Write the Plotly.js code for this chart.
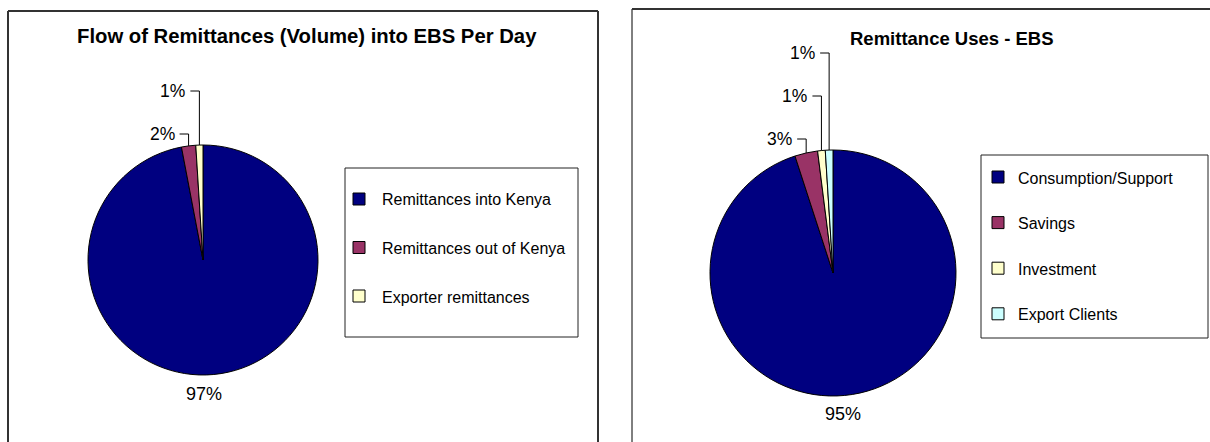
<!DOCTYPE html>
<html><head><meta charset="utf-8">
<script src="https://cdn.plot.ly/plotly-3.0.1.min.js"></script>
<style>html,body{margin:0;padding:0;background:#fff}#chart{width:1210px;height:442px}</style>
</head><body><div id="chart"></div>
<script>
// ---- data ----
const flowTitle = 'Flow of Remittances (Volume) into EBS Per Day';
const flowLabels = ['Remittances into Kenya', 'Remittances out of Kenya', 'Exporter remittances'];
const flowValues = [97, 2, 1];

const usesTitle = 'Remittance Uses - EBS';
const usesLabels = ['Consumption/Support', 'Savings', 'Investment', 'Export Clients'];
const usesValues = [95, 3, 1, 1];

const sliceColors = ['#000080', '#993366', '#FFFFCC', '#CCFFFF'];

// ---- layout helpers ----
const W = 1210, H = 442;
const FONT = '"Liberation Sans", Arial, sans-serif';
const px = x => x / W, py = y => 1 - y / H;

const charts = [
  {title: flowTitle, labels: flowLabels, values: flowValues,
   cx: 203, cy: 260, r: 115, titleX: 307, titleY: 36, titleSize: 20.3,
   legend: {x0: 345, y0: 168, x1: 578, y1: 337, first: 199, step: 48.5, markX: 353, textX: 380}},
  {title: usesTitle, labels: usesLabels, values: usesValues,
   cx: 833, cy: 273, r: 123, titleX: 952, titleY: 38, titleSize: 18.5,
   legend: {x0: 981, y0: 155, x1: 1208, y1: 338, first: 177, step: 45.6, markX: 992, textX: 1016}}
];

const data = charts.map(c => ({
  type: 'pie', labels: c.labels, values: c.values,
  sort: false, direction: 'clockwise', rotation: 0,
  marker: {colors: sliceColors.slice(0, c.values.length), line: {color: '#000', width: 1}},
  textinfo: 'none', hoverinfo: 'label+percent', showlegend: false,
  domain: {x: [px(c.cx - c.r), px(c.cx + c.r)], y: [py(c.cy + c.r), py(c.cy - c.r)]}
}));

const annotations = [];
const shapes = [];

// panel frames
shapes.push({type: 'line', xref: 'paper', yref: 'paper', x0: px(8), x1: px(8), y0: py(11), y1: py(460), line: {color: '#333', width: 2}});
shapes.push({type: 'line', xref: 'paper', yref: 'paper', x0: px(598), x1: px(598), y0: py(11), y1: py(460), line: {color: '#333', width: 2}});
shapes.push({type: 'line', xref: 'paper', yref: 'paper', x0: px(8), x1: px(598), y0: py(11), y1: py(11), line: {color: '#333', width: 2}});
shapes.push({type: 'line', xref: 'paper', yref: 'paper', x0: px(632), x1: px(632), y0: py(9), y1: py(460), line: {color: '#000', width: 1}});
shapes.push({type: 'line', xref: 'paper', yref: 'paper', x0: px(632), x1: px(1220), y0: py(9), y1: py(9), line: {color: '#333', width: 2}});

charts.forEach(c => {
  // title
  annotations.push({xref: 'paper', yref: 'paper', x: px(c.titleX), y: py(c.titleY),
    xanchor: 'center', yanchor: 'middle', showarrow: false,
    text: '<b>' + c.title + '</b>', font: {family: FONT, size: c.titleSize, color: '#000'}});

  // slice labels, derived from values
  const total = c.values.reduce((a, b) => a + b, 0);
  let cum = 0, k = 0;
  c.values.forEach((v, i) => {
    const mid = (cum + v / 2) / total * 2 * Math.PI;
    cum += v;
    const pct = Math.round(v / total * 100) + '%';
    const s = Math.sin(mid), co = Math.cos(mid);
    if (i === 0) {
      const d = c.r + 20;
      annotations.push({xref: 'paper', yref: 'paper', x: px(c.cx + d * s - 12), y: py(c.cy - d * co),
        xanchor: 'center', yanchor: 'middle', showarrow: false, text: pct,
        font: {family: FONT, size: 18, color: '#000'}});
    } else {
      const ax = c.cx + c.r * s, ay = c.cy - c.r * co;
      const ly = c.cy - c.r - 11 - 43 * k; k++;
      const lx = ax - 12;
      annotations.push({xref: 'paper', yref: 'paper', x: px(lx), y: py(ly),
        xanchor: 'right', yanchor: 'middle', showarrow: false, text: pct,
        font: {family: FONT, size: 17.5, color: '#000'}});
      shapes.push({type: 'path', xref: 'paper', yref: 'paper',
        path: 'M' + px(lx + 3) + ',' + py(ly) + ' L' + px(ax) + ',' + py(ly) + ' L' + px(ax) + ',' + py(ay),
        line: {color: '#000', width: 1}});
    }
  });

  // legend box built from the category arrays
  const L = c.legend;
  shapes.push({type: 'rect', xref: 'paper', yref: 'paper', x0: px(L.x0), x1: px(L.x1), y0: py(L.y1), y1: py(L.y0),
    line: {color: '#222', width: 1}, fillcolor: 'rgba(0,0,0,0)'});
  c.labels.forEach((lab, i) => {
    const yc = L.first + i * L.step;
    shapes.push({type: 'rect', xref: 'paper', yref: 'paper',
      x0: px(L.markX), x1: px(L.markX + 12), y0: py(yc + 6), y1: py(yc - 6),
      line: {color: '#000', width: 1}, fillcolor: sliceColors[i]});
    annotations.push({xref: 'paper', yref: 'paper', x: px(L.textX), y: py(yc + 1),
      xanchor: 'left', yanchor: 'middle', showarrow: false, text: lab,
      font: {family: FONT, size: 16, color: '#000'}});
  });
});

const layout = {
  width: W, height: H, margin: {l: 0, r: 0, t: 0, b: 0},
  paper_bgcolor: '#fff', plot_bgcolor: '#fff', showlegend: false,
  annotations: annotations, shapes: shapes,
  font: {family: FONT}
};

Plotly.newPlot('chart', data, layout, {displayModeBar: false, staticPlot: true});
</script>
</body></html>
